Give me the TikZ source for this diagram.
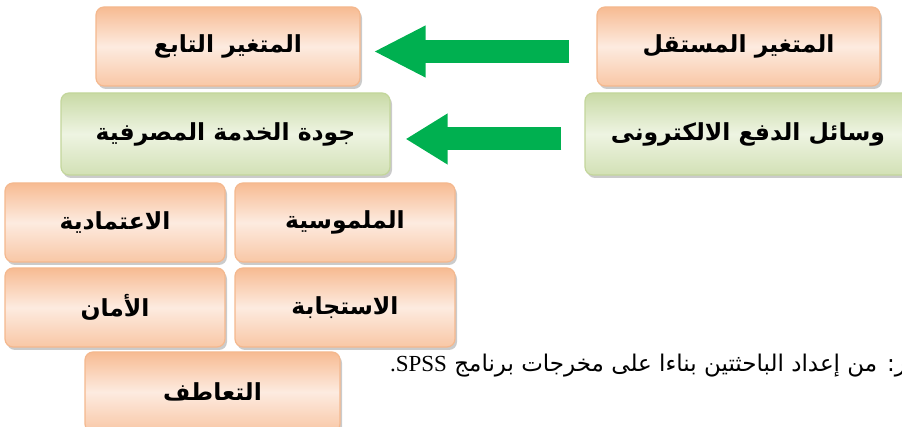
\documentclass[tikz,border=0pt]{standalone}
\usepackage{fontspec}
\setmainfont{Liberation Serif}
\newfontfamily\arabicfont[Script=Arabic]{DejaVu Sans}
\TeXXeTstate=1
\usetikzlibrary{shadows,arrows.meta}
\definecolor{orngdark}{HTML}{F7BB92}
\definecolor{orngpale}{HTML}{FDEBE0}
\definecolor{orngline}{HTML}{F4B88E}
\definecolor{grndark}{HTML}{C9DAA6}
\definecolor{grnpale}{HTML}{EEF4E2}
\definecolor{grnline}{HTML}{C3D69B}
\definecolor{arrowgreen}{HTML}{00B050}
\newcommand{\boxtext}[1]{\arabicfont\bfseries\fontsize{23.5}{28}\selectfont\beginR #1\endR}

\begin{document}
\begin{tikzpicture}[x=1pt,y=1pt,
    varbox/.style={rounded corners=8pt, line width=1.2pt, inner sep=0pt,
      drop shadow={shadow xshift=2pt, shadow yshift=-3pt, opacity=0.45, fill=black!45}},
    orangebox/.style={varbox, draw=orngline, top color=orngdark, bottom color=orngdark!75!orngpale, middle color=orngpale},
    greenbox/.style={varbox, draw=grnline, top color=grndark, bottom color=grndark!75!grnpale, middle color=grnpale},
    fatarrow/.style={draw=arrowgreen, line width=23pt, -{Triangle[width=48pt,length=#1,fill=arrowgreen]}}]
    \useasboundingbox (0,0) rectangle (902,427);
    \clip (0,0) rectangle (902,427);

    % variables
    \node[orangebox, minimum width=283pt, minimum height=79pt] (indep) at (738.5,380.5) {\boxtext{المتغير المستقل}};
    \node[orangebox, minimum width=264pt, minimum height=79pt] (dep) at (228,380.5) {\boxtext{المتغير التابع}};
    \node[greenbox, minimum width=326pt, minimum height=82pt] (epay) at (748,293) {\boxtext{وسائل الدفع الالكترونى}};
    \node[greenbox, minimum width=329pt, minimum height=82pt] (quality) at (225.5,293) {\boxtext{جودة الخدمة المصرفية}};

    % dimensions
    \node[orangebox, minimum width=220pt, minimum height=79pt] (tangible) at (345,204.5) {\boxtext{الملموسية}};
    \node[orangebox, minimum width=220pt, minimum height=79pt] (reliab) at (115,204.5) {\boxtext{الاعتمادية}};
    \node[orangebox, minimum width=220pt, minimum height=79pt] (respon) at (345,119.5) {\boxtext{الاستجابة}};
    \node[orangebox, minimum width=220pt, minimum height=79pt] (safety) at (115,119.5) {\boxtext{الأمان}};
    \node[orangebox, minimum width=255pt, minimum height=80pt] (empathy) at (212.5,35) {\boxtext{التعاطف}};

    % arrows
    \draw[fatarrow=52pt] ([shift={(-27pt,-5pt)}]indep.west) -- ([shift={(13pt,-5pt)}]dep.east);
    \draw[fatarrow=42pt] ([shift={(-23pt,-5pt)}]epay.west) -- ([shift={(15pt,-5pt)}]quality.east);

    % source
    \node[anchor=base east, inner sep=0pt] (source) at (906,55)
      {\arabicfont\fontsize{23}{26}\selectfont\beginR ر: من إعداد الباحثتين بناءا على مخرجات برنامج \beginL\rmfamily SPSS\endL.\endR};
\end{tikzpicture}
\end{document}
